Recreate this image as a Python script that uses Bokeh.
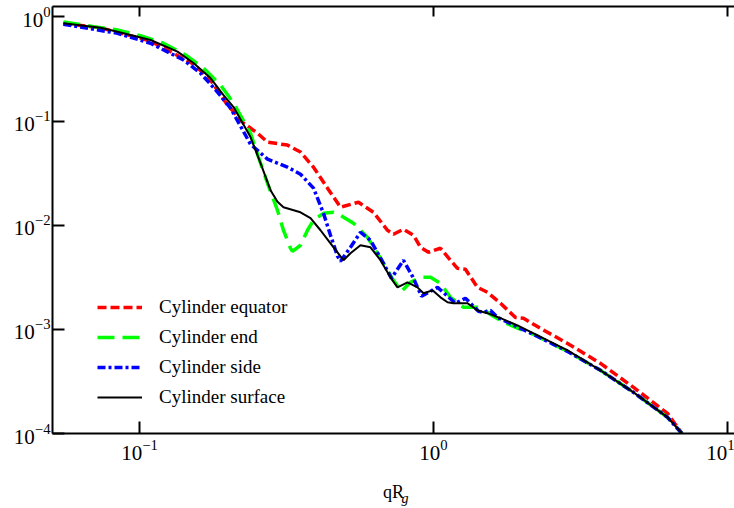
from bokeh.plotting import figure
from bokeh.models import LogAxis, FixedTicker, Legend, LegendItem, Title, Range1d, CustomJSTickFormatter
from bokeh.embed import file_html
from bokeh.resources import INLINE

# ---- data ----
q_equator = [0.0551, 0.0737, 0.109, 0.1526, 0.1744, 0.1993, 0.2258, 0.2519, 0.2725, 0.3186,
             0.3528, 0.3907, 0.436, 0.4827, 0.5556, 0.6249, 0.6972, 0.7307, 0.7902, 0.8546,
             0.903, 0.9616, 1.056, 1.142, 1.206, 1.284, 1.411, 1.526, 1.69, 1.90, 2.023, 2.312,
             2.857, 3.698, 4.79, 6.25, 7.0]
I_equator = [0.865, 0.785, 0.588, 0.353, 0.248, 0.1425, 0.0957, 0.0767, 0.0628, 0.0588,
             0.0504, 0.0361, 0.0227, 0.0149, 0.01664, 0.0133, 0.00895, 0.0082, 0.00915, 0.00801,
             0.00614, 0.0055, 0.00601, 0.00461, 0.00386, 0.00378, 0.00253, 0.00227, 0.00178,
             0.0013, 0.00128, 0.00102, 0.000733, 0.000471, 0.000277, 0.000156, 0.0001]

q_end = [0.0551, 0.0697, 0.0842, 0.1008, 0.1207, 0.1434, 0.1651, 0.1886, 0.2089, 0.2154,
         0.2385, 0.254, 0.2725, 0.2947, 0.3088, 0.3262, 0.3314, 0.3528, 0.3728, 0.3907,
         0.4225, 0.457, 0.4827, 0.5344, 0.5962, 0.66, 0.7307, 0.778, 0.8348, 0.903, 0.9768,
         1.056, 1.142, 1.265, 1.445, 1.563, 1.73, 1.977, 2.188, 2.857, 3.698, 4.79, 6.25, 7.0]
I_end = [0.895, 0.807, 0.75, 0.661, 0.559, 0.431, 0.323, 0.222, 0.149, 0.1276,
         0.0767, 0.045, 0.0253, 0.0139, 0.00895, 0.00601, 0.00562, 0.00642, 0.00895, 0.0112,
         0.013, 0.0133, 0.01247, 0.01045, 0.00766, 0.00482, 0.00296, 0.00232, 0.00283, 0.00316,
         0.00316, 0.00277, 0.00203, 0.00163, 0.00163, 0.00139, 0.00117, 0.001, 0.000895,
         0.000614, 0.000404, 0.000248, 0.000143, 0.0001]

q_side = [0.0551, 0.0842, 0.109, 0.1412, 0.1612, 0.1842, 0.204, 0.2385, 0.2725, 0.3186,
          0.3528, 0.3907, 0.4225, 0.4463, 0.4715, 0.4827, 0.522, 0.5644, 0.6104, 0.6757,
          0.7194, 0.7902, 0.848, 0.9104, 0.9768, 1.032, 1.116, 1.188, 1.284, 1.336, 1.422,
          1.479, 1.563, 1.651, 1.786, 1.977, 2.188, 2.857, 3.698, 4.79, 6.25, 7.0]
I_side = [0.851, 0.697, 0.559, 0.386, 0.289, 0.190, 0.1334, 0.06, 0.0431, 0.0361,
          0.0309, 0.0227, 0.013, 0.00801, 0.00504, 0.00451, 0.00614, 0.00856, 0.00717, 0.00431,
          0.00309, 0.00461, 0.00323, 0.00208, 0.00232, 0.00253, 0.00208, 0.00178, 0.00199,
          0.00178, 0.00149, 0.00146, 0.00152, 0.0013, 0.00117, 0.00102, 0.000895, 0.000614,
          0.000404, 0.000248, 0.000143, 0.0001]

q_surface = [0.0551, 0.0737, 0.0842, 0.109, 0.1347, 0.1526, 0.1744, 0.1931, 0.2089, 0.2385,
             0.258, 0.279, 0.2947, 0.3088, 0.3528, 0.3817, 0.4127, 0.4463, 0.4942, 0.522, 0.5644,
             0.6104, 0.66, 0.7137, 0.754, 0.8154, 0.882, 0.9245, 0.992, 1.056, 1.116, 1.169,
             1.305, 1.411, 1.526, 1.69, 1.931, 2.188, 2.857, 3.698, 4.79, 6.25, 7.0]
I_surface = [0.870, 0.789, 0.722, 0.601, 0.464, 0.361, 0.259, 0.1778, 0.1364, 0.0702,
             0.0395, 0.0217, 0.0168, 0.0149, 0.0133, 0.0117, 0.00895, 0.00671, 0.00461, 0.00538,
             0.00642, 0.00614, 0.00461, 0.00316, 0.00253, 0.00283, 0.00253, 0.00222, 0.00237,
             0.00203, 0.00182, 0.00178, 0.00178, 0.00152, 0.00143, 0.00128, 0.00109, 0.000916,
             0.000628, 0.000404, 0.000248, 0.000143, 0.0001]

series_labels = ["Cylinder equator", "Cylinder end", "Cylinder side", "Cylinder surface"]
x_ticks = [0.1, 1, 10]
y_ticks = [1e-4, 1e-3, 1e-2, 1e-1, 1]

FONT = "Liberation Serif"

p = figure(width=734, height=508, x_axis_type="log", y_axis_type="log",
           x_range=Range1d(0.0506, 10.56), y_range=Range1d(1e-4, 1.26),
           output_backend="svg", toolbar_location=None,
           min_border_left=52, min_border_right=0, min_border_top=6, min_border_bottom=75)
p.outline_line_color = None
p.xgrid.visible = False
p.ygrid.visible = False
p.background_fill_color = "white"
p.border_fill_color = "white"


def style_axis(ax, ticks, tick_len=12):
    ax.ticker = FixedTicker(ticks=ticks, minor_ticks=[])
    ax.axis_line_width = 2
    ax.axis_line_color = "black"
    ax.major_tick_line_width = 2
    ax.major_tick_line_color = "black"
    ax.major_tick_in = tick_len
    ax.major_tick_out = 0
    ax.minor_tick_line_color = None
    ax.major_label_text_font = FONT
    ax.major_label_text_font_size = "21px"
    ax.major_label_text_color = "black"


xa = p.xaxis[0]
style_axis(xa, x_ticks)
xa.major_label_standoff = 6
xa.axis_label = "qR"
xa.axis_label_text_font = FONT
xa.axis_label_text_font_size = "18px"
xa.axis_label_text_font_style = "normal"
xa.axis_label_text_color = "black"
xa.axis_label_standoff = 19

style_axis(p.yaxis[0], y_ticks)
p.yaxis[0].major_label_standoff = 2

top = LogAxis()
style_axis(top, x_ticks, tick_len=10)
top.formatter = CustomJSTickFormatter(code="return ''")
top.major_label_text_font_size = "1px"
top.major_label_standoff = 0
p.add_layout(top, "above")

r1 = p.line(q_equator, I_equator, line_color="#ff0000", line_width=3.5, line_dash="9 4")
r2 = p.line(q_end, I_end, line_color="#00ff00", line_width=3.5, line_dash="17 8")
r3 = p.line(q_side, I_side, line_color="#0000ff", line_width=3.5, line_dash="8 3 3 3")
r4 = p.line(q_surface, I_surface, line_color="black", line_width=2)

legend = Legend(items=[LegendItem(label=series_labels[i], renderers=[r])
                       for i, r in enumerate([r1, r2, r3, r4])],
                location=(45, 25), border_line_color=None, background_fill_alpha=0,
                padding=0, margin=0, spacing=8, glyph_width=45, glyph_height=20,
                label_height=20, label_standoff=17, label_text_font=FONT,
                label_text_font_size="19px", label_text_color="black")
p.add_layout(legend)

sub = Title(text="g", align="left", offset=349, vertical_align="top", standoff=-28,
            text_font=FONT, text_font_style="italic", text_font_size="14px",
            text_color="black")
p.add_layout(sub, "below")

open("out.html", "w").write(file_html(p, INLINE))
